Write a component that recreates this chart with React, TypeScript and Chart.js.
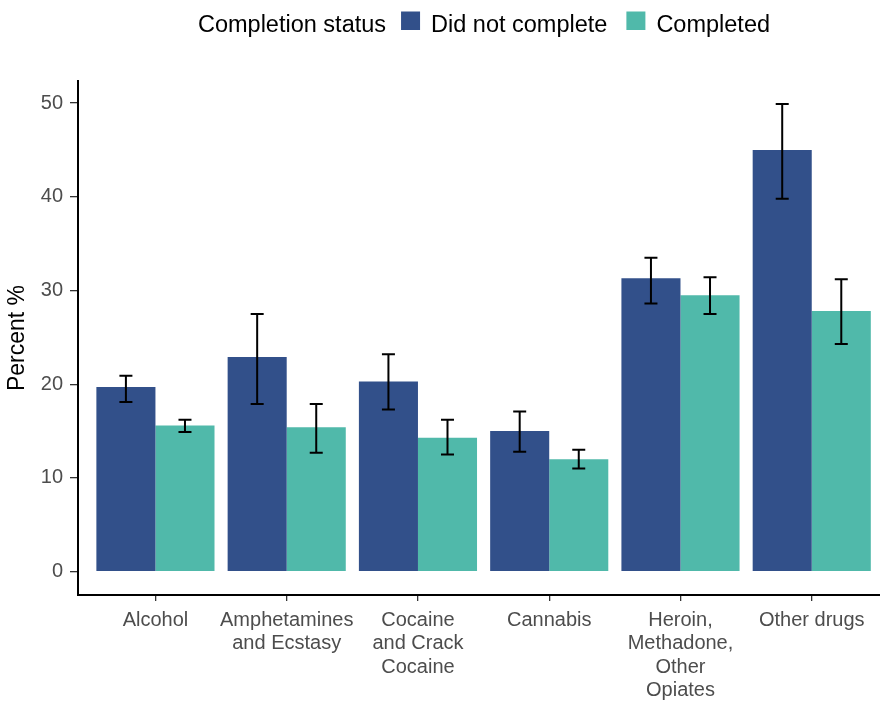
import React, { useEffect, useRef } from "react";
import { Chart, registerables } from "chart.js";

Chart.register(...registerables);

const categories: string[][] = [
  ["Alcohol"],
  ["Amphetamines", "and Ecstasy"],
  ["Cocaine", "and Crack", "Cocaine"],
  ["Cannabis"],
  ["Heroin,", "Methadone,", "Other", "Opiates"],
  ["Other drugs"],
];

const seriesNames = ["Did not complete", "Completed"];
const legendTitle = "Completion status";
const yTitle = "Percent %";
const yTicks = [0, 10, 20, 30, 40, 50];

const didNotComplete = [19.7, 22.9, 20.3, 15.0, 31.3, 45.0];
const didNotCompleteLow = [18.1, 17.9, 17.3, 12.8, 28.6, 39.8];
const didNotCompleteHigh = [20.9, 27.5, 23.2, 17.1, 33.5, 49.9];

const completed = [15.6, 15.4, 14.3, 12.0, 29.5, 27.8];
const completedLow = [14.9, 12.7, 12.5, 11.0, 27.5, 24.3];
const completedHigh = [16.2, 17.9, 16.2, 13.0, 31.4, 31.2];

const colors = ["#32508A", "#50B9AA"];
const FONT = '"Liberation Sans", Arial, sans-serif';

const errorLows = [didNotCompleteLow, completedLow];
const errorHighs = [didNotCompleteHigh, completedHigh];

const errorBarPlugin = {
  id: "errorBars",
  afterDatasetsDraw(chart: any) {
    const ctx = chart.ctx;
    const yScale = chart.scales.y;
    ctx.save();
    ctx.strokeStyle = "#000000";
    ctx.lineWidth = 2;
    chart.data.datasets.forEach((_: any, di: number) => {
      const meta = chart.getDatasetMeta(di);
      meta.data.forEach((bar: any, i: number) => {
        const x = bar.x;
        const yLo = yScale.getPixelForValue(errorLows[di][i]);
        const yHi = yScale.getPixelForValue(errorHighs[di][i]);
        const cap = 6.5;
        ctx.beginPath();
        ctx.moveTo(x, yLo);
        ctx.lineTo(x, yHi);
        ctx.moveTo(x - cap, yLo);
        ctx.lineTo(x + cap, yLo);
        ctx.moveTo(x - cap, yHi);
        ctx.lineTo(x + cap, yHi);
        ctx.stroke();
      });
    });
    ctx.restore();
  },
};

const legendPlugin = {
  id: "customLegend",
  afterDraw(chart: any) {
    const ctx = chart.ctx;
    ctx.save();
    ctx.font = `23.5px ${FONT}`;
    ctx.textBaseline = "alphabetic";
    ctx.textAlign = "left";
    const titleW = ctx.measureText(legendTitle).width;
    const box = 19;
    const titleGap = 15;
    const boxGap = 11;
    const itemGap = 19;
    const widths = seriesNames.map((n) => ctx.measureText(n).width);
    let total = titleW + titleGap;
    widths.forEach((w, i) => {
      total += box + boxGap + w + (i < widths.length - 1 ? itemGap : 0);
    });
    const centerX = 484;
    let x = centerX - total / 2;
    const baseline = 31.5;
    ctx.fillStyle = "#000000";
    ctx.fillText(legendTitle, x, baseline);
    x += titleW + titleGap;
    seriesNames.forEach((n, i) => {
      ctx.fillStyle = colors[i];
      ctx.fillRect(x, 11.5, box, 18.5);
      x += box + boxGap;
      ctx.fillStyle = "#000000";
      ctx.fillText(n, x, baseline);
      x += widths[i] + itemGap;
    });
    ctx.restore();
  },
};

export default function App() {
  const canvasRef = useRef<HTMLCanvasElement | null>(null);

  useEffect(() => {
    if (!canvasRef.current) return;
    const chart = new Chart(canvasRef.current, {
      type: "bar",
      data: {
        datasets: [
          {
            label: seriesNames[0],
            data: didNotComplete.map((v, i) => ({ x: i, y: v })),
            backgroundColor: colors[0],
            borderWidth: 0,
          },
          {
            label: seriesNames[1],
            data: completed.map((v, i) => ({ x: i, y: v })),
            backgroundColor: colors[1],
            borderWidth: 0,
          },
        ],
      },
      options: {
        animation: false,
        responsive: false,
        maintainAspectRatio: false,
        layout: { padding: { top: 81, left: 0, right: 0, bottom: 0 } },
        datasets: {
          bar: { categoryPercentage: 0.9, barPercentage: 1.0 },
        },
        plugins: {
          legend: { display: false },
          tooltip: { enabled: false },
          title: { display: false },
        },
        scales: {
          x: {
            type: "linear",
            min: -0.59,
            max: 5.52,
            offset: false,
            afterBuildTicks: (scale: any) => {
              scale.ticks = categories.map((_, i) => ({ value: i }));
            },
            afterFit: (scale: any) => {
              scale.height = 107;
            },
            grid: {
              display: true,
              offset: false,
              drawOnChartArea: false,
              drawTicks: true,
              tickLength: 6,
              color: "#333333",
              lineWidth: 1.3,
            },
            border: { display: true, color: "#000000", width: 2 },
            ticks: {
              autoSkip: false,
              maxRotation: 0,
              minRotation: 0,
              padding: 8,
              color: "#4D4D4D",
              font: { family: FONT, size: 20, lineHeight: 1.165 },
              callback: (value: any) => {
                const idx = Math.round(Number(value));
                return categories[idx] ?? "";
              },
            },
          },
          y: {
            type: "linear",
            min: -2.49,
            max: 52.35,
            afterBuildTicks: (scale: any) => {
              scale.ticks = yTicks.map((v) => ({ value: v }));
            },
            afterFit: (scale: any) => {
              scale.width = 78;
            },
            grid: {
              display: true,
              drawOnChartArea: false,
              drawTicks: true,
              tickLength: 8,
              color: "#333333",
              lineWidth: 1.3,
            },
            border: { display: true, color: "#000000", width: 2 },
            ticks: {
              padding: 7,
              color: "#4D4D4D",
              font: { family: FONT, size: 20 },
            },
            title: {
              display: true,
              text: yTitle,
              color: "#000000",
              font: { family: FONT, size: 23 },
              padding: { top: 3.5, bottom: 0 },
            },
          },
        },
      },
      plugins: [errorBarPlugin, legendPlugin],
    } as any);
    return () => chart.destroy();
  }, []);

  return (
    <div style={{ position: "fixed", left: 0, top: 0, width: 880, height: 702, background: "#ffffff" }}>
      <canvas ref={canvasRef} width={880} height={702} style={{ width: 880, height: 702 }} />
    </div>
  );
}
